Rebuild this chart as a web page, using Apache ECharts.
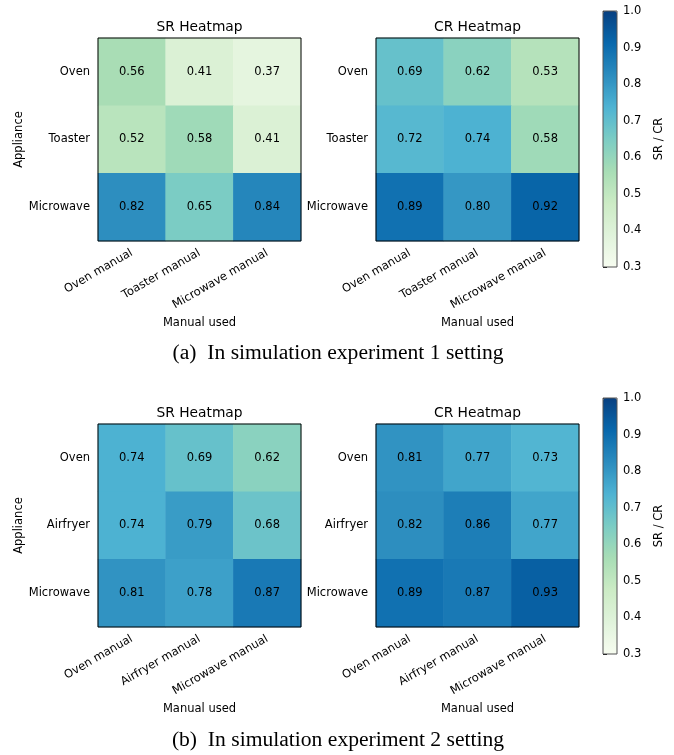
<!DOCTYPE html>
<html>
<head>
<meta charset="utf-8">
<script src="https://cdn.jsdelivr.net/npm/echarts@6/dist/echarts.min.js"></script>
<style>
  html, body { margin: 0; padding: 0; background: #fff; }
  #chart { width: 674px; height: 755px; }
</style>
</head>
<body>
<div id="chart"></div>
<script>
// Manuals (columns) and appliances (rows) for each experiment
const manualsExp1 = ['Oven manual', 'Toaster manual', 'Microwave manual'];
const appliancesExp1 = ['Oven', 'Toaster', 'Microwave'];
const manualsExp2 = ['Oven manual', 'Airfryer manual', 'Microwave manual'];
const appliancesExp2 = ['Oven', 'Airfryer', 'Microwave'];

// Success rate / completion rate, rows = appliance, cols = manual
const srExp1 = [
  [0.56, 0.41, 0.37],
  [0.52, 0.58, 0.41],
  [0.82, 0.65, 0.84]
];
const crExp1 = [
  [0.69, 0.62, 0.53],
  [0.72, 0.74, 0.58],
  [0.89, 0.80, 0.92]
];
const srExp2 = [
  [0.74, 0.69, 0.62],
  [0.74, 0.79, 0.68],
  [0.81, 0.78, 0.87]
];
const crExp2 = [
  [0.81, 0.77, 0.73],
  [0.82, 0.86, 0.77],
  [0.89, 0.87, 0.93]
];

// Colour scale range and colorbar ticks
const scaleMin = 0.3;
const scaleMax = 1.0;
const scaleStep = 0.1;

// GnBu colour ramp
const gnbu = ['#f7fcf0', '#e0f3db', '#ccebc5', '#a8ddb5', '#7bccc4',
              '#4eb3d3', '#2b8cbe', '#0868ac', '#084081'];

const FONT = 'DejaVu Sans';
const TICK_FS = 11.5;

function toCells(matrix) {
  const out = [];
  matrix.forEach((row, r) => row.forEach((v, c) => out.push([c, r, v])));
  return out;
}

// Heatmap panel layout: [left, top]
const W = 203, H = 203;
const panels = [
  { left: 98,  top: 38,  xs: manualsExp1, ys: appliancesExp1, vals: srExp1, title: 'SR Heatmap', yName: 'Appliance' },
  { left: 376, top: 38,  xs: manualsExp1, ys: appliancesExp1, vals: crExp1, title: 'CR Heatmap', yName: '' },
  { left: 98,  top: 424, xs: manualsExp2, ys: appliancesExp2, vals: srExp2, title: 'SR Heatmap', yName: 'Appliance' },
  { left: 376, top: 424, xs: manualsExp2, ys: appliancesExp2, vals: crExp2, title: 'CR Heatmap', yName: '' }
];
const colorbars = [
  { left: 603, top: 11 },
  { left: 603, top: 398 }
];
const CB_W = 14, CB_H = 256;

const grid = [], xAxis = [], yAxis = [], series = [], graphic = [];

panels.forEach((p, i) => {
  grid.push({ left: p.left, top: p.top, width: W, height: H, show: true,
    borderColor: '#000', borderWidth: 1, backgroundColor: 'transparent', z: 5 });
  xAxis.push({
    type: 'category', gridIndex: i, data: p.xs,
    name: 'Manual used', nameLocation: 'middle', nameGap: 76,
    nameTextStyle: { fontFamily: FONT, fontSize: TICK_FS, color: '#000' },
    axisLine: { show: false },
    axisTick: { alignWithLabel: true, length: 4, lineStyle: { color: '#000' } },
    axisLabel: { rotate: 30, margin: 11, fontFamily: FONT, fontSize: TICK_FS, color: '#000' },
    splitLine: { show: false }
  });
  yAxis.push({
    type: 'category', gridIndex: i, data: p.ys, inverse: true,
    name: p.yName, nameLocation: 'middle', nameGap: 73,
    nameTextStyle: { fontFamily: FONT, fontSize: TICK_FS, color: '#000' },
    axisLine: { show: false },
    axisTick: { alignWithLabel: true, length: 4, lineStyle: { color: '#000' } },
    axisLabel: { margin: 8, fontFamily: FONT, fontSize: TICK_FS, color: '#000' },
    splitLine: { show: false }
  });
  series.push({
    type: 'heatmap', xAxisIndex: i, yAxisIndex: i,
    data: toCells(p.vals),
    label: { show: true, fontFamily: FONT, fontSize: TICK_FS, color: '#000',
      formatter: (d) => d.value[2].toFixed(2) },
    itemStyle: { borderWidth: 0 },
    emphasis: { disabled: true }
  });
  graphic.push({
    type: 'text', x: p.left + W / 2, y: p.top - 11, silent: true,
    style: { text: p.title, fontFamily: FONT, fontSize: 13.8, fill: '#000',
      align: 'center', verticalAlign: 'middle' }
  });
});

// Colorbar axes (ticks and label) sit on top of the visualMap gradient
colorbars.forEach((cb) => {
  const gi = grid.length;
  grid.push({ left: cb.left, top: cb.top, width: CB_W, height: CB_H, show: true,
    borderColor: '#555', borderWidth: 1, backgroundColor: 'transparent', z: 6 });
  xAxis.push({ type: 'value', gridIndex: gi, show: false, min: 0, max: 1 });
  yAxis.push({
    type: 'value', gridIndex: gi, position: 'right',
    min: scaleMin, max: scaleMax, interval: scaleStep,
    name: 'SR / CR', nameLocation: 'middle', nameGap: 36, nameRotate: 90,
    nameTextStyle: { fontFamily: FONT, fontSize: TICK_FS, color: '#000' },
    axisLine: { show: false },
    axisTick: { show: true, length: 4, lineStyle: { color: '#000' } },
    axisLabel: { margin: 6, fontFamily: FONT, fontSize: TICK_FS, color: '#000',
      formatter: (v) => v.toFixed(1) },
    splitLine: { show: false }
  });
});

const visualMap = [
  { type: 'continuous', seriesIndex: [0, 1], min: scaleMin, max: scaleMax,
    left: colorbars[0].left, top: colorbars[0].top, itemWidth: CB_W, itemHeight: CB_H,
    padding: 0, calculable: false, hoverLink: false, text: null, showLabel: false,
    inRange: { color: gnbu }, textStyle: { color: 'transparent' } },
  { type: 'continuous', seriesIndex: [2, 3], min: scaleMin, max: scaleMax,
    left: colorbars[1].left, top: colorbars[1].top, itemWidth: CB_W, itemHeight: CB_H,
    padding: 0, calculable: false, hoverLink: false, text: null, showLabel: false,
    inRange: { color: gnbu }, textStyle: { color: 'transparent' } }
];

// Sub-figure captions
graphic.push({
  type: 'text', x: 338, y: 353, silent: true,
  style: { text: '(a)  In simulation experiment 1 setting', fontFamily: 'Liberation Serif',
    fontSize: 21.6, fill: '#000', align: 'center', verticalAlign: 'middle' }
});
graphic.push({
  type: 'text', x: 338, y: 740, silent: true,
  style: { text: '(b)  In simulation experiment 2 setting', fontFamily: 'Liberation Serif',
    fontSize: 21.6, fill: '#000', align: 'center', verticalAlign: 'middle' }
});

const chart = echarts.init(document.getElementById('chart'), null, { renderer: 'canvas' });
chart.setOption({
  animation: false,
  backgroundColor: '#fff',
  grid, xAxis, yAxis, series, visualMap, graphic
});
</script>
</body>
</html>
